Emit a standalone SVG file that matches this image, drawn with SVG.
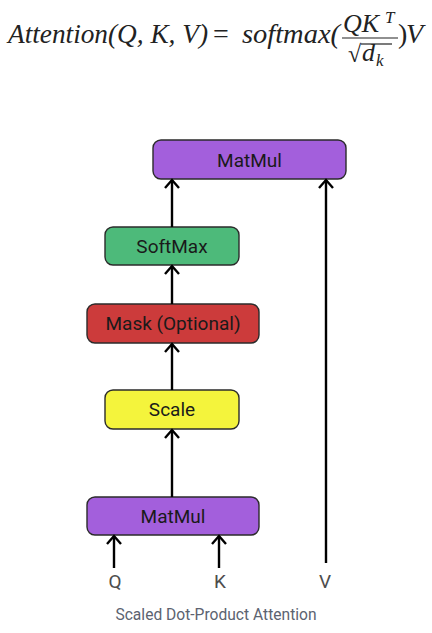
<svg xmlns="http://www.w3.org/2000/svg" width="432" height="633" viewBox="0 0 432 633">
<defs>
<style>
.node rect{stroke:#2b2b2b;stroke-width:1.4}
.lbl{font-family:Roboto,"Liberation Sans",sans-serif;font-size:19px;fill:#1a1a1a;text-anchor:middle}
.io{font-family:Roboto,"Liberation Sans",sans-serif;font-size:19px;fill:#4d4d4d;text-anchor:middle}
.cap{font-family:Roboto,"Liberation Sans",sans-serif;font-size:15.6px;fill:#5c6370;text-anchor:middle}
.math{font-family:"Liberation Serif","DejaVu Serif",serif;fill:#222}
.conn line{stroke:#000;stroke-width:2.4;marker-end:url(#ah)}
</style>
<marker id="ah" markerUnits="userSpaceOnUse" markerWidth="20" markerHeight="20" viewBox="-10 -10 20 20" refX="0" refY="0" orient="auto">
<path d="M-8,-7 L0,0 L-8,7" fill="none" stroke="#000" stroke-width="2.4"/>
</marker>
</defs>
<rect width="432" height="633" fill="#fff"/>
<g id="formula" class="math">
<text x="8" y="43" font-size="28" font-style="italic" textLength="200" lengthAdjust="spacingAndGlyphs">Attention(Q, K, V)</text>
<text x="213" y="43" font-size="28">=</text>
<text x="242" y="43" font-size="28" font-style="italic" textLength="98" lengthAdjust="spacingAndGlyphs">softmax(</text>
<text x="343" y="32" font-size="26" font-style="italic">QK</text>
<text x="385" y="23" font-size="17" font-style="italic">T</text>
<line x1="342" y1="38" x2="398" y2="38" stroke="#222" stroke-width="1.2"/>
<text x="348" y="62" font-size="24">√</text>
<line x1="361" y1="44" x2="392" y2="44" stroke="#222" stroke-width="1.2"/>
<text x="362" y="61" font-size="26" font-style="italic">d</text>
<text x="376" y="66" font-size="17" font-style="italic">k</text>
<text x="398" y="43" font-size="28">)</text>
<text x="406" y="43" font-size="28" font-style="italic">V</text>
</g>
<g id="matmul-top" class="node">
<rect x="153" y="140" width="193" height="39" rx="8" fill="#a35fdc"/>
<text class="lbl" x="249.5" y="167">MatMul</text>
</g>
<g id="softmax" class="node">
<rect x="105" y="227" width="134" height="38" rx="8" fill="#4dba7a"/>
<text class="lbl" x="172" y="253">SoftMax</text>
</g>
<g id="mask" class="node">
<rect x="87" y="304" width="172" height="39" rx="8" fill="#cc3b3b"/>
<text class="lbl" x="173" y="330">Mask (Optional)</text>
</g>
<g id="scale" class="node">
<rect x="105" y="390" width="134" height="39" rx="8" fill="#f4f43c"/>
<text class="lbl" x="172" y="416">Scale</text>
</g>
<g id="matmul-bottom" class="node">
<rect x="87" y="497" width="172" height="38" rx="8" fill="#a35fdc"/>
<text class="lbl" x="173" y="523">MatMul</text>
</g>
<g id="connectors" class="conn">
<line x1="172" y1="497" x2="172" y2="430"/>
<line x1="172" y1="390" x2="172" y2="344"/>
<line x1="172" y1="304" x2="172" y2="266"/>
<line x1="172" y1="227" x2="172" y2="180"/>
<line x1="326" y1="563" x2="326" y2="180"/>
<line x1="114" y1="568" x2="114" y2="536"/>
<line x1="219" y1="568" x2="219" y2="536"/>
</g>
<g id="inputs">
<text class="io" x="115" y="588">Q</text>
<text class="io" x="220" y="588">K</text>
<text class="io" x="325" y="588">V</text>
</g>
<text class="cap" x="216" y="620">Scaled Dot-Product Attention</text>
</svg>
